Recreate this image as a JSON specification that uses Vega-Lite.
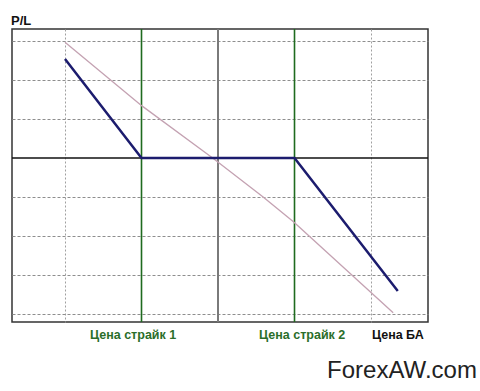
{
  "$schema": "https://vega.github.io/schema/vega-lite/v6.json",
  "width": 416,
  "height": 293,
  "autosize": "none",
  "padding": {"left": 12, "top": 29, "right": 52, "bottom": 69},
  "background": "white",
  "config": {
    "font": "Liberation Sans",
    "view": {"stroke": "#333333", "strokeWidth": 1.5}
  },
  "datasets": {
    "strikes": [{"price": 2}, {"price": 4}],
    "mid": [{"price": 3}],
    "zero": [{"pl": 0}],
    "payoff": [
      {"price": 1.0, "pl": 2.54},
      {"price": 2.0, "pl": 0},
      {"price": 4.0, "pl": 0},
      {"price": 5.35, "pl": -3.41}
    ],
    "underlying": [
      {"price": 1.0, "pl": 2.97},
      {"price": 2.01, "pl": 1.33},
      {"price": 2.93, "pl": 0},
      {"price": 3.59, "pl": -1.0},
      {"price": 3.99, "pl": -1.64},
      {"price": 5.29, "pl": -3.97}
    ],
    "labels": [
      {"price": 1.89, "pl": -4.54, "text": "Цена страйк 1", "group": "strike"},
      {"price": 4.1, "pl": -4.54, "text": "Цена страйк 2", "group": "strike"},
      {"price": 5.35, "pl": -4.54, "text": "Цена БА", "group": "base"}
    ],
    "ylabel": [{"price": 0.294, "pl": 3.51, "text": "P/L"}],
    "brand": [{"price": 5.405, "pl": -5.46, "text": "ForexAW.com"}]
  },
  "layer": [
    {
      "data": {"name": "zero"},
      "mark": {"type": "rule", "color": "#111111", "strokeWidth": 1.5},
      "encoding": {
        "y": {
          "field": "pl", "type": "quantitative",
          "scale": {"domain": [-4.205, 3.308], "nice": false, "zero": false},
          "axis": {"values": [-4, -3, -2, -1, 1, 2, 3], "labels": false, "ticks": false, "domain": false, "title": null, "grid": true, "gridColor": "#8e8e8e", "gridDash": [3, 2], "gridWidth": 1}
        }
      }
    },
    {
      "data": {"name": "mid"},
      "mark": {"type": "rule", "color": "#7a7a7a", "strokeWidth": 2},
      "encoding": {
        "x": {
          "field": "price", "type": "quantitative",
          "scale": {"domain": [0.3072, 5.745], "nice": false, "zero": false},
          "axis": {"values": [1, 5], "labels": false, "ticks": false, "domain": false, "title": null, "grid": true, "gridColor": "#a0a0a0", "gridDash": [2, 2], "gridWidth": 1}
        }
      }
    },
    {
      "data": {"name": "strikes"},
      "mark": {"type": "rule", "color": "#1f6b1f", "strokeWidth": 1.6},
      "encoding": {"x": {"field": "price", "type": "quantitative"}}
    },
    {
      "data": {"name": "underlying"},
      "mark": {"type": "line", "color": "#c4a2b2", "strokeWidth": 1.3},
      "encoding": {
        "x": {"field": "price", "type": "quantitative"},
        "y": {"field": "pl", "type": "quantitative"}
      }
    },
    {
      "data": {"name": "payoff"},
      "mark": {"type": "line", "color": "#1c1c6e", "strokeWidth": 2.5},
      "encoding": {
        "x": {"field": "price", "type": "quantitative"},
        "y": {"field": "pl", "type": "quantitative"}
      }
    },
    {
      "data": {"name": "labels"},
      "mark": {"type": "text", "fontSize": 12.5, "fontWeight": "bold", "align": "center", "baseline": "middle"},
      "encoding": {
        "x": {"field": "price", "type": "quantitative"},
        "y": {"field": "pl", "type": "quantitative"},
        "text": {"field": "text"},
        "color": {"field": "group", "type": "nominal", "scale": {"domain": ["strike", "base"], "range": ["#2a6e2a", "#111111"]}, "legend": null}
      }
    },
    {
      "data": {"name": "ylabel"},
      "mark": {"type": "text", "fontSize": 13, "fontWeight": "bold", "align": "left", "baseline": "middle", "color": "#111111"},
      "encoding": {
        "x": {"field": "price", "type": "quantitative"},
        "y": {"field": "pl", "type": "quantitative"},
        "text": {"field": "text"}
      }
    },
    {
      "data": {"name": "brand"},
      "mark": {"type": "text", "fontSize": 24, "align": "center", "baseline": "middle", "color": "#222222"},
      "encoding": {
        "x": {"field": "price", "type": "quantitative"},
        "y": {"field": "pl", "type": "quantitative"},
        "text": {"field": "text"}
      }
    }
  ]
}
